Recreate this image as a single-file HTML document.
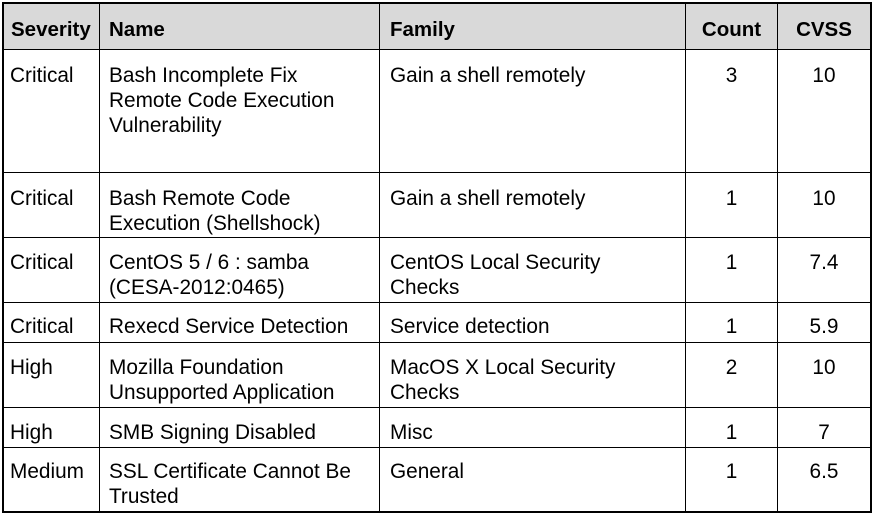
<!DOCTYPE html>
<html><head><meta charset="utf-8"><style>
body{margin:0;width:874px;height:516px;background:#fff;overflow:hidden;font-family:"Liberation Sans",Arial,sans-serif;font-size:20.8px;color:#000}
.h{position:absolute;background:#000}
.t{position:absolute;line-height:25px;white-space:nowrap}
.c{text-align:center}
.b{font-weight:bold;font-size:20.5px}
</style></head><body>
<div style="position:absolute;left:3px;top:3px;width:867px;height:46px;background:#d9d9d9"></div>
<div class="h" style="left:2px;top:2px;width:870px;height:2px"></div>
<div class="h" style="left:2px;top:511px;width:870px;height:2px"></div>
<div class="h" style="left:2px;top:2px;width:2px;height:511px"></div>
<div class="h" style="left:870px;top:2px;width:2px;height:511px"></div>
<div class="h" style="left:99px;top:3px;width:1px;height:509px"></div>
<div class="h" style="left:379px;top:3px;width:1px;height:509px"></div>
<div class="h" style="left:685px;top:3px;width:1px;height:509px"></div>
<div class="h" style="left:777px;top:3px;width:1px;height:509px"></div>
<div class="h" style="left:3px;top:49px;width:868px;height:1px"></div>
<div class="h" style="left:3px;top:172px;width:868px;height:1px"></div>
<div class="h" style="left:3px;top:237px;width:868px;height:1px"></div>
<div class="h" style="left:3px;top:302px;width:868px;height:1px"></div>
<div class="h" style="left:3px;top:342px;width:868px;height:1px"></div>
<div class="h" style="left:3px;top:407px;width:868px;height:1px"></div>
<div class="h" style="left:3px;top:447px;width:868px;height:1px"></div>

<div class="t b" style="left:11px;top:17px">Severity</div>
<div class="t b" style="left:109px;top:17px">Name</div>
<div class="t b" style="left:390px;top:17px">Family</div>
<div class="t b c" style="left:686px;width:91px;top:17px">Count</div>
<div class="t b c" style="left:778px;width:92px;top:17px">CVSS</div>

<div class="t" style="left:10px;top:63px">Critical</div>
<div class="t" style="left:109px;top:63px">Bash Incomplete Fix<br>Remote Code Execution<br>Vulnerability</div>
<div class="t" style="left:390px;top:63px">Gain a shell remotely</div>
<div class="t c" style="left:686px;width:91px;top:63px">3</div>
<div class="t c" style="left:778px;width:92px;top:63px">10</div>

<div class="t" style="left:10px;top:186px">Critical</div>
<div class="t" style="left:109px;top:186px">Bash Remote Code<br>Execution (Shellshock)</div>
<div class="t" style="left:390px;top:186px">Gain a shell remotely</div>
<div class="t c" style="left:686px;width:91px;top:186px">1</div>
<div class="t c" style="left:778px;width:92px;top:186px">10</div>

<div class="t" style="left:10px;top:250px">Critical</div>
<div class="t" style="left:109px;top:250px">CentOS 5 / 6 : samba<br>(CESA-2012:0465)</div>
<div class="t" style="left:390px;top:250px">CentOS Local Security<br>Checks</div>
<div class="t c" style="left:686px;width:91px;top:250px">1</div>
<div class="t c" style="left:778px;width:92px;top:250px">7.4</div>

<div class="t" style="left:10px;top:314px">Critical</div>
<div class="t" style="left:109px;top:314px">Rexecd Service Detection</div>
<div class="t" style="left:390px;top:314px">Service detection</div>
<div class="t c" style="left:686px;width:91px;top:314px">1</div>
<div class="t c" style="left:778px;width:92px;top:314px">5.9</div>

<div class="t" style="left:10px;top:355px">High</div>
<div class="t" style="left:109px;top:355px">Mozilla Foundation<br>Unsupported Application</div>
<div class="t" style="left:390px;top:355px">MacOS X Local Security<br>Checks</div>
<div class="t c" style="left:686px;width:91px;top:355px">2</div>
<div class="t c" style="left:778px;width:92px;top:355px">10</div>

<div class="t" style="left:10px;top:420px">High</div>
<div class="t" style="left:109px;top:420px">SMB Signing Disabled</div>
<div class="t" style="left:390px;top:420px">Misc</div>
<div class="t c" style="left:686px;width:91px;top:420px">1</div>
<div class="t c" style="left:778px;width:92px;top:420px">7</div>

<div class="t" style="left:10px;top:459px">Medium</div>
<div class="t" style="left:109px;top:459px">SSL Certificate Cannot Be<br>Trusted</div>
<div class="t" style="left:390px;top:459px">General</div>
<div class="t c" style="left:686px;width:91px;top:459px">1</div>
<div class="t c" style="left:778px;width:92px;top:459px">6.5</div>
</body></html>
